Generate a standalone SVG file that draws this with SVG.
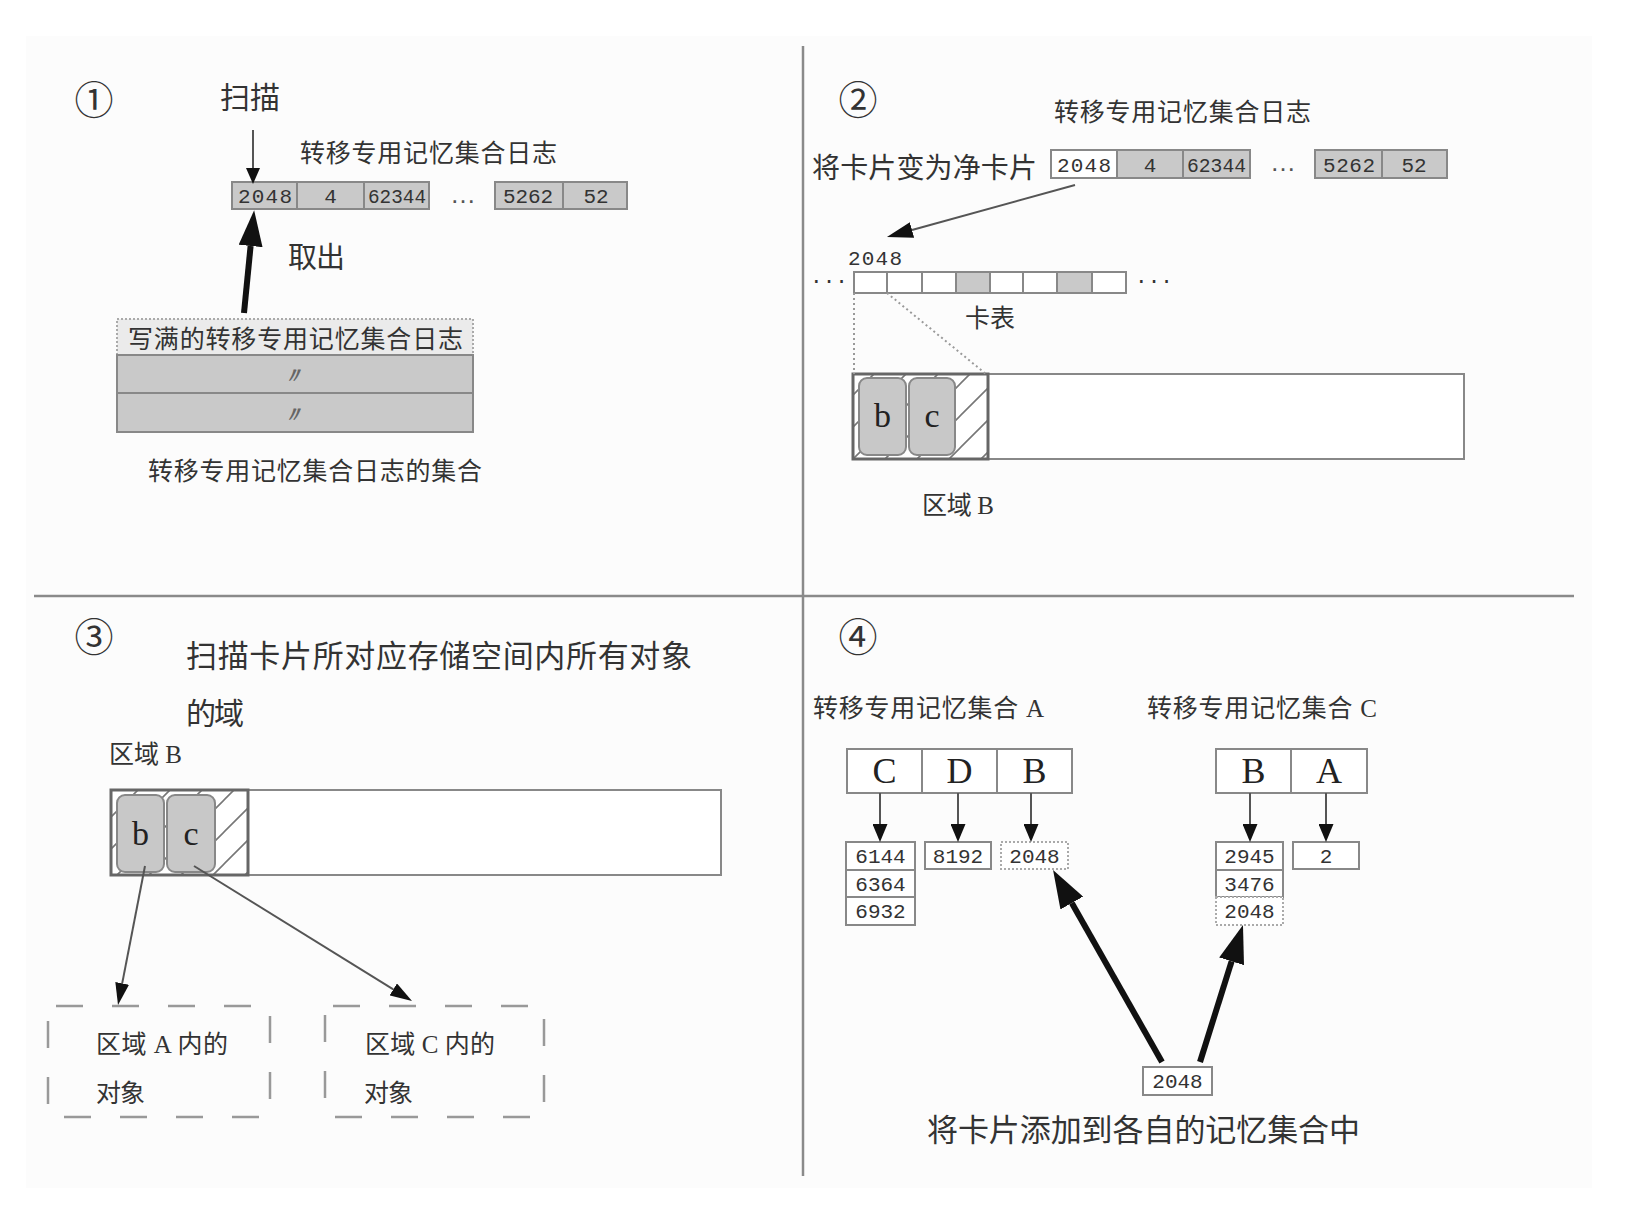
<svg xmlns="http://www.w3.org/2000/svg" width="1626" height="1216" viewBox="0 0 1626 1216">
<style>
.cjk{font-family:"Liberation Serif","Noto Sans CJK SC",serif;fill:#333;}
.num{font-family:"Noto Sans CJK SC",sans-serif;fill:#333;}
.mono{font-family:"Liberation Mono","DejaVu Sans Mono",monospace;fill:#333;font-size:21px;}
.dots{font-family:"Liberation Sans",sans-serif;fill:#555;font-size:26px;}
.ser{font-family:"Liberation Serif",serif;fill:#222;}
.cell{fill:#c9c9c9;stroke:#888;stroke-width:2;}
.wcell{fill:#fff;stroke:#888;stroke-width:2;}
.dcell{fill:#fff;stroke:#aaa;stroke-width:2;stroke-dasharray:2 2;}
.obj{fill:#c8c8c8;stroke:#888;stroke-width:2;}
.div{stroke:#8a8a8a;stroke-width:2.5;fill:none;}
.thin{stroke:#555;stroke-width:2;fill:none;}
.thick{stroke:#111;stroke-width:6;fill:none;}
.dot{stroke:#999;stroke-width:2;stroke-dasharray:2 3;fill:none;}
.dash{stroke:#999;stroke-width:2.5;stroke-dasharray:27 29;fill:none;}
</style>
<defs>
<pattern id="hatch" patternUnits="userSpaceOnUse" width="32" height="32">
<path d="M0,32 L32,0 M-8,8 L8,-8 M24,40 L40,24" stroke="#777" stroke-width="1.6"/>
</pattern>
<marker id="hs" markerUnits="userSpaceOnUse" markerWidth="16" markerHeight="14" refX="0" refY="7" orient="auto"><path d="M0,0 L16,7 L0,14 z" fill="#111"/></marker>
<marker id="hm" markerUnits="userSpaceOnUse" markerWidth="22" markerHeight="14" refX="0" refY="7" orient="auto"><path d="M0,0 L22,7 L0,14 z" fill="#111"/></marker>
<marker id="h2" markerUnits="userSpaceOnUse" markerWidth="26" markerHeight="16" refX="0" refY="8" orient="auto"><path d="M0,0 L26,8 L0,16 z" fill="#111"/></marker>
<marker id="hv" markerUnits="userSpaceOnUse" markerWidth="18" markerHeight="15" refX="0" refY="7.5" orient="auto"><path d="M0,0 L18,7.5 L0,15 z" fill="#111"/></marker>
<marker id="hb" markerUnits="userSpaceOnUse" markerWidth="36" markerHeight="24" refX="0" refY="12" orient="auto"><path d="M0,0 L36,12 L0,24 z" fill="#111"/></marker>
<marker id="hbb" markerUnits="userSpaceOnUse" markerWidth="38" markerHeight="26" refX="0" refY="13" orient="auto"><path d="M0,0 L38,13 L0,26 z" fill="#111"/></marker>
</defs>
<rect width="1626" height="1216" fill="#fff"/>
<rect x="26" y="36" width="1566" height="1152" fill="#fcfcfc"/>
<g id="dividers">
<line class="div" x1="803" y1="46" x2="803" y2="1176"/>
<line class="div" x1="34" y1="596" x2="1574" y2="596"/>
</g>

<!-- Panel 1 -->
<g id="p1-label"><text class="num" x="94" y="114" font-size="39" text-anchor="middle">①</text></g>
<g id="p1-scan"><text class="cjk" x="220" y="108" font-size="30" textLength="60" lengthAdjust="spacing">扫描</text></g>
<g id="p1-title"><text class="cjk" x="300" y="161.5" font-size="25" textLength="257" lengthAdjust="spacing">转移专用记忆集合日志</text></g>
<g id="p1-log">
<rect class="cell" x="232" y="182" width="65" height="27"/>
<rect class="cell" x="297" y="182" width="67" height="27"/>
<rect class="cell" x="364" y="182" width="65" height="27"/>
<text class="mono" x="238" y="203" textLength="54" lengthAdjust="spacing">2048</text>
<text class="mono" x="330.5" y="203" text-anchor="middle">4</text>
<text class="mono" x="368" y="203" textLength="58" lengthAdjust="spacingAndGlyphs">62344</text>
<text class="dots" x="463" y="203" text-anchor="middle">…</text>
<rect class="cell" x="495" y="182" width="68" height="27"/>
<rect class="cell" x="563" y="182" width="64" height="27"/>
<text class="mono" x="503" y="203" textLength="50" lengthAdjust="spacing">5262</text>
<text class="mono" x="596" y="203" text-anchor="middle">52</text>
</g>
<g id="p1-takeout"><text class="cjk" x="288" y="268" font-size="29" textLength="57" lengthAdjust="spacing">取出</text></g>
<g id="p1-stack">
<rect x="117" y="319" width="356" height="36" fill="#ebebeb" stroke="#aaa" stroke-width="2" stroke-dasharray="2 2"/>
<text class="cjk" x="128" y="347.5" font-size="25" textLength="335" lengthAdjust="spacing">写满的转移专用记忆集合日志</text>
<rect class="cell" x="117" y="355" width="356" height="38"/>
<rect class="cell" x="117" y="393" width="356" height="39"/>
<text x="293" y="383" font-size="22" font-style="italic" font-weight="bold" text-anchor="middle" fill="#666" font-family="Liberation Sans, sans-serif">〃</text>
<text x="293" y="422" font-size="22" font-style="italic" font-weight="bold" text-anchor="middle" fill="#666" font-family="Liberation Sans, sans-serif">〃</text>
</g>
<g id="p1-caption"><text class="cjk" x="148" y="479.5" font-size="25" textLength="334" lengthAdjust="spacing">转移专用记忆集合日志的集合</text></g>

<!-- Panel 2 -->
<g id="p2-label"><text class="num" x="858" y="114" font-size="39" text-anchor="middle">②</text></g>
<g id="p2-title"><text class="cjk" x="1054" y="120.5" font-size="25" textLength="257" lengthAdjust="spacing">转移专用记忆集合日志</text></g>
<g id="p2-clean"><text class="cjk" x="812" y="177.5" font-size="28" textLength="225" lengthAdjust="spacing">将卡片变为净卡片</text></g>
<g id="p2-log">
<rect class="wcell" x="1051" y="150" width="66" height="28"/>
<rect class="cell" x="1117" y="150" width="66" height="28"/>
<rect class="cell" x="1183" y="150" width="67" height="28"/>
<text class="mono" x="1057" y="171.5" textLength="54" lengthAdjust="spacing">2048</text>
<text class="mono" x="1150" y="171.5" text-anchor="middle">4</text>
<text class="mono" x="1187" y="171.5" textLength="59" lengthAdjust="spacingAndGlyphs">62344</text>
<text class="dots" x="1283" y="171" text-anchor="middle">…</text>
<rect class="cell" x="1315" y="150" width="67" height="28"/>
<rect class="cell" x="1382" y="150" width="65" height="28"/>
<text class="mono" x="1323" y="171.5" textLength="52" lengthAdjust="spacing">5262</text>
<text class="mono" x="1414" y="171.5" text-anchor="middle">52</text>
</g>
<g id="p2-cardlabel"><text class="mono" x="848" y="264.5" textLength="54" lengthAdjust="spacing">2048</text></g>
<g id="p2-cardtable">
<rect class="wcell" x="854" y="272" width="33" height="21"/>
<rect class="wcell" x="887" y="272" width="35" height="21"/>
<rect class="wcell" x="922" y="272" width="34" height="21"/>
<rect class="cell" x="956" y="272" width="34" height="21"/>
<rect class="wcell" x="990" y="272" width="33" height="21"/>
<rect class="wcell" x="1023" y="272" width="34" height="21"/>
<rect class="cell" x="1057" y="272" width="35" height="21"/>
<rect class="wcell" x="1092" y="272" width="34" height="21"/>
<text class="mono" x="829" y="287" text-anchor="middle">···</text>
<text class="mono" x="1154" y="287" text-anchor="middle">···</text>
</g>
<g id="p2-cardtext"><text class="cjk" x="965" y="326.5" font-size="25" textLength="50" lengthAdjust="spacing">卡表</text></g>
<g id="p2-region">
<rect x="853" y="374" width="611" height="85" fill="#fff" stroke="#888" stroke-width="2"/>
<rect x="853" y="374" width="135" height="85" fill="url(#hatch)" stroke="#666" stroke-width="3"/>
<rect class="obj" x="859" y="378" width="47" height="77" rx="8"/>
<rect class="obj" x="909" y="378" width="46" height="77" rx="8"/>
<text class="ser" x="882.5" y="427" font-size="34" text-anchor="middle">b</text>
<text class="ser" x="932" y="427" font-size="34" text-anchor="middle">c</text>
</g>
<g id="p2-regionlabel"><text class="cjk" x="922" y="513.5" font-size="25" textLength="72" lengthAdjust="spacing">区域 B</text></g>

<!-- Panel 3 -->
<g id="p3-label"><text class="num" x="94" y="651" font-size="39" text-anchor="middle">③</text></g>
<g id="p3-title">
<text class="cjk" x="186" y="666.5" font-size="31" textLength="506" lengthAdjust="spacing">扫描卡片所对应存储空间内所有对象</text>
<text class="cjk" x="186" y="723.5" font-size="30" textLength="58" lengthAdjust="spacing">的域</text>
</g>
<g id="p3-regionlabel"><text class="cjk" x="109" y="762.5" font-size="25" textLength="73" lengthAdjust="spacing">区域 B</text></g>
<g id="p3-region">
<rect x="111" y="790" width="610" height="85" fill="#fff" stroke="#888" stroke-width="2"/>
<rect x="111" y="790" width="137" height="85" fill="url(#hatch)" stroke="#666" stroke-width="3"/>
<rect class="obj" x="117" y="795" width="47" height="77" rx="8"/>
<rect class="obj" x="167" y="795" width="48" height="77" rx="8"/>
<text class="ser" x="140.5" y="845" font-size="34" text-anchor="middle">b</text>
<text class="ser" x="191" y="845" font-size="34" text-anchor="middle">c</text>
</g>
<g id="p3-objA">
<rect class="dash" x="48" y="1006" width="222" height="111" stroke-dashoffset="-8"/>
<text class="cjk" x="96" y="1052.5" font-size="25" textLength="132" lengthAdjust="spacing">区域 A 内的</text>
<text class="cjk" x="96" y="1101.5" font-size="25" textLength="49" lengthAdjust="spacing">对象</text>
</g>
<g id="p3-objC">
<rect class="dash" x="325" y="1006" width="219" height="111" stroke-dashoffset="-8"/>
<text class="cjk" x="365" y="1052.5" font-size="25" textLength="130" lengthAdjust="spacing">区域 C 内的</text>
<text class="cjk" x="364" y="1101.5" font-size="25" textLength="49" lengthAdjust="spacing">对象</text>
</g>

<!-- Panel 4 -->
<g id="p4-label"><text class="num" x="858" y="651" font-size="39" text-anchor="middle">④</text></g>
<g id="p4-titleA"><text class="cjk" x="813" y="716.5" font-size="25" textLength="231" lengthAdjust="spacing">转移专用记忆集合 A</text></g>
<g id="p4-titleC"><text class="cjk" x="1147" y="716.5" font-size="25" textLength="230" lengthAdjust="spacing">转移专用记忆集合 C</text></g>
<g id="p4-rowA">
<rect class="wcell" x="847" y="749" width="75" height="44"/>
<rect class="wcell" x="922" y="749" width="75" height="44"/>
<rect class="wcell" x="997" y="749" width="75" height="44"/>
<text class="ser" x="884.5" y="783" font-size="36" text-anchor="middle">C</text>
<text class="ser" x="959.5" y="783" font-size="36" text-anchor="middle">D</text>
<text class="ser" x="1034.5" y="783" font-size="36" text-anchor="middle">B</text>
</g>
<g id="p4-rowC">
<rect class="wcell" x="1216" y="749" width="75" height="44"/>
<rect class="wcell" x="1291" y="749" width="76" height="44"/>
<text class="ser" x="1253.5" y="783" font-size="36" text-anchor="middle">B</text>
<text class="ser" x="1329" y="783" font-size="36" text-anchor="middle">A</text>
</g>
<g id="p4-listC">
<rect class="wcell" x="846" y="842" width="69" height="28"/>
<rect class="wcell" x="846" y="870" width="69" height="27"/>
<rect class="wcell" x="846" y="897" width="69" height="28"/>
<text class="mono" x="880.5" y="863" text-anchor="middle">6144</text>
<text class="mono" x="880.5" y="890.5" text-anchor="middle">6364</text>
<text class="mono" x="880.5" y="918" text-anchor="middle">6932</text>
</g>
<g id="p4-listD">
<rect class="wcell" x="925" y="842" width="66" height="27"/>
<text class="mono" x="958" y="863" text-anchor="middle">8192</text>
</g>
<g id="p4-listB">
<rect class="dcell" x="1001" y="842" width="67" height="27"/>
<text class="mono" x="1034.5" y="863" text-anchor="middle">2048</text>
</g>
<g id="p4-listB2">
<rect class="wcell" x="1216" y="842" width="67" height="28"/>
<rect class="wcell" x="1216" y="870" width="67" height="27"/>
<rect class="dcell" x="1216" y="897" width="67" height="28"/>
<text class="mono" x="1249.5" y="863" text-anchor="middle">2945</text>
<text class="mono" x="1249.5" y="890.5" text-anchor="middle">3476</text>
<text class="mono" x="1249.5" y="918" text-anchor="middle">2048</text>
</g>
<g id="p4-listA">
<rect class="wcell" x="1293" y="842" width="66" height="27"/>
<text class="mono" x="1326" y="863" text-anchor="middle">2</text>
</g>
<g id="p4-card">
<rect class="wcell" x="1143" y="1067" width="69" height="28"/>
<text class="mono" x="1177.5" y="1088" text-anchor="middle">2048</text>
</g>
<g id="p4-caption"><text class="cjk" x="927" y="1141" font-size="31" textLength="433" lengthAdjust="spacing">将卡片添加到各自的记忆集合中</text></g>

<g id="connectors">
<line class="thin" x1="253" y1="130" x2="253" y2="168" marker-end="url(#hs)"/>
<line class="thick" x1="244" y1="313" x2="250.6" y2="246" stroke-width="6" marker-end="url(#hb)"/>
<line class="thin" x1="1075" y1="185" x2="912" y2="230" stroke-width="2.5" marker-end="url(#h2)"/>
<line x1="854" y1="293" x2="854" y2="374" class="dot"/>
<line x1="887" y1="293" x2="986" y2="374" class="dot"/>
<line class="thin" x1="145" y1="866" x2="122.2" y2="983.4" marker-end="url(#hm)"/>
<line class="thin" x1="194" y1="866" x2="393.3" y2="989.4" marker-end="url(#hm)"/>
<line class="thin" x1="880" y1="793" x2="880" y2="824" marker-end="url(#hv)"/>
<line class="thin" x1="958" y1="793" x2="958" y2="824" marker-end="url(#hv)"/>
<line class="thin" x1="1031" y1="793" x2="1031" y2="824" marker-end="url(#hv)"/>
<line class="thin" x1="1250" y1="793" x2="1250" y2="824" marker-end="url(#hv)"/>
<line class="thin" x1="1326" y1="793" x2="1326" y2="824" marker-end="url(#hv)"/>
<line class="thick" x1="1162" y1="1062" x2="1071.8" y2="903" marker-end="url(#hbb)"/>
<line class="thick" x1="1200" y1="1062" x2="1231.6" y2="961.3" marker-end="url(#hbb)"/>
</g>
</svg>
